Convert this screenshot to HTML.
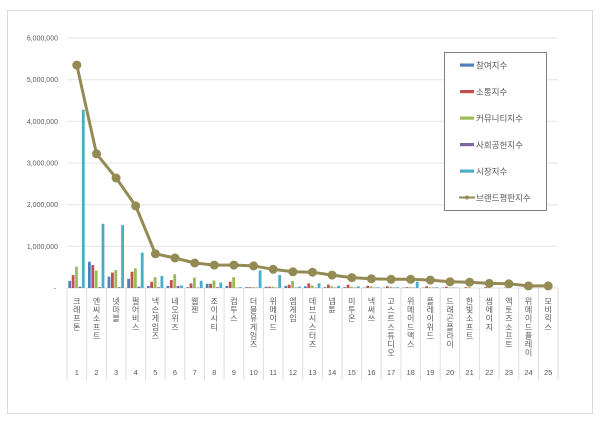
<!DOCTYPE html>
<html><head><meta charset="utf-8">
<style>
html,body{margin:0;padding:0;background:#fff;}
#wrap{position:relative;width:600px;height:422px;overflow:hidden;background:#fff;font-family:"Liberation Sans","Noto Sans CJK KR",sans-serif;}
svg{position:absolute;left:0;top:0;}
.cl{position:absolute;top:297px;width:9px;margin-left:-4.5px;writing-mode:vertical-rl;text-orientation:upright;font-family:"Noto Sans CJK KR","Liberation Sans",sans-serif;font-size:8px;line-height:9px;letter-spacing:0.6px;color:#595959;white-space:nowrap;}
.nm{position:absolute;top:368px;width:20px;margin-left:-10px;text-align:center;font-size:7.5px;color:#595959;}
</style></head><body><div id="wrap">
<svg width="600" height="422" viewBox="0 0 600 422" xmlns="http://www.w3.org/2000/svg">
<rect x="7.5" y="10.5" width="585" height="403" fill="#fff" stroke="#d9d9d9" stroke-width="1"/>
<g stroke="#e3e3e3" stroke-width="1">
<line x1="67" y1="38" x2="558" y2="38"/>
<line x1="67" y1="79.7" x2="558" y2="79.7"/>
<line x1="67" y1="121.3" x2="558" y2="121.3"/>
<line x1="67" y1="163" x2="558" y2="163"/>
<line x1="67" y1="204.7" x2="558" y2="204.7"/>
<line x1="67" y1="246.3" x2="558" y2="246.3"/>
<line x1="67" y1="288" x2="558" y2="288"/>
</g>
<g stroke="#dedede" stroke-width="1">
<line x1="67" y1="288" x2="67" y2="380"/><line x1="86.6" y1="288" x2="86.6" y2="380"/><line x1="106.3" y1="288" x2="106.3" y2="380"/><line x1="125.9" y1="288" x2="125.9" y2="380"/><line x1="145.6" y1="288" x2="145.6" y2="380"/><line x1="165.2" y1="288" x2="165.2" y2="380"/><line x1="184.8" y1="288" x2="184.8" y2="380"/><line x1="204.5" y1="288" x2="204.5" y2="380"/><line x1="224.1" y1="288" x2="224.1" y2="380"/><line x1="243.8" y1="288" x2="243.8" y2="380"/><line x1="263.4" y1="288" x2="263.4" y2="380"/><line x1="283" y1="288" x2="283" y2="380"/><line x1="302.7" y1="288" x2="302.7" y2="380"/><line x1="322.3" y1="288" x2="322.3" y2="380"/><line x1="342" y1="288" x2="342" y2="380"/><line x1="361.6" y1="288" x2="361.6" y2="380"/><line x1="381.2" y1="288" x2="381.2" y2="380"/><line x1="400.9" y1="288" x2="400.9" y2="380"/><line x1="420.5" y1="288" x2="420.5" y2="380"/><line x1="440.2" y1="288" x2="440.2" y2="380"/><line x1="459.8" y1="288" x2="459.8" y2="380"/><line x1="479.4" y1="288" x2="479.4" y2="380"/><line x1="499.1" y1="288" x2="499.1" y2="380"/><line x1="518.7" y1="288" x2="518.7" y2="380"/><line x1="538.4" y1="288" x2="538.4" y2="380"/><line x1="558" y1="288" x2="558" y2="380"/>
</g>
<g font-family="Liberation Sans, sans-serif" font-size="7" fill="#595959" text-anchor="end">
<text x="58" y="40.5">6,000,000</text>
<text x="58" y="82.2">5,000,000</text>
<text x="58" y="123.8">4,000,000</text>
<text x="58" y="165.5">3,000,000</text>
<text x="58" y="207.2">2,000,000</text>
<text x="58" y="248.8">1,000,000</text>
<text x="56" y="290.5">-</text>
</g>
<!-- bars: relative offsets blue -8.5, red -5.1, green -1.7, purple 1.7, cyan 5.1 ; width 2.8 -->
<g id="bars">
<g transform="translate(76.8,0)"><rect x="-8.5" y="280.9" width="2.8" height="7.1" fill="#4F81BD"/><rect x="-5.1" y="275.1" width="2.8" height="12.9" fill="#C0504D"/><rect x="-1.7" y="266.7" width="2.8" height="21.3" fill="#9BBB59"/><rect x="1.7" y="286.7" width="2.8" height="1.3" fill="#8064A2"/><rect x="5.1" y="109.7" width="2.8" height="178.3" fill="#4BACC6"/></g>
<g transform="translate(96.5,0)"><rect x="-8.5" y="261.7" width="2.8" height="26.3" fill="#4F81BD"/><rect x="-5.1" y="265.1" width="2.8" height="22.9" fill="#C0504D"/><rect x="-1.7" y="270.5" width="2.8" height="17.5" fill="#9BBB59"/><rect x="1.7" y="287.2" width="2.8" height="0.8" fill="#8064A2"/><rect x="5.1" y="223.8" width="2.8" height="64.2" fill="#4BACC6"/></g>
<g transform="translate(116.1,0)"><rect x="-8.5" y="276.7" width="2.8" height="11.3" fill="#4F81BD"/><rect x="-5.1" y="272.6" width="2.8" height="15.4" fill="#C0504D"/><rect x="-1.7" y="270.1" width="2.8" height="17.9" fill="#9BBB59"/><rect x="1.7" y="287.2" width="2.8" height="0.8" fill="#8064A2"/><rect x="5.1" y="225.1" width="2.8" height="62.9" fill="#4BACC6"/></g>
<g transform="translate(135.7,0)"><rect x="-8.5" y="278.8" width="2.8" height="9.2" fill="#4F81BD"/><rect x="-5.1" y="271.7" width="2.8" height="16.3" fill="#C0504D"/><rect x="-1.7" y="268.4" width="2.8" height="19.6" fill="#9BBB59"/><rect x="1.7" y="286.7" width="2.8" height="1.3" fill="#8064A2"/><rect x="5.1" y="252.6" width="2.8" height="35.4" fill="#4BACC6"/></g>
<g transform="translate(155.4,0)"><rect x="-8.5" y="285.9" width="2.8" height="2.1" fill="#4F81BD"/><rect x="-5.1" y="281.7" width="2.8" height="6.3" fill="#C0504D"/><rect x="-1.7" y="277.2" width="2.8" height="10.8" fill="#9BBB59"/><rect x="1.7" y="287.2" width="2.8" height="0.8" fill="#8064A2"/><rect x="5.1" y="275.9" width="2.8" height="12.1" fill="#4BACC6"/></g>
<g transform="translate(175,0)"><rect x="-8.5" y="285.9" width="2.8" height="2.1" fill="#4F81BD"/><rect x="-5.1" y="280.1" width="2.8" height="7.9" fill="#C0504D"/><rect x="-1.7" y="274.2" width="2.8" height="13.8" fill="#9BBB59"/><rect x="1.7" y="285.9" width="2.8" height="2.1" fill="#8064A2"/><rect x="5.1" y="285.5" width="2.8" height="2.5" fill="#4BACC6"/></g>
<g transform="translate(194.7,0)"><rect x="-8.5" y="287.2" width="2.8" height="0.8" fill="#4F81BD"/><rect x="-5.1" y="283.4" width="2.8" height="4.6" fill="#C0504D"/><rect x="-1.7" y="277.6" width="2.8" height="10.4" fill="#9BBB59"/><rect x="1.7" y="287.6" width="2.8" height="0.4" fill="#8064A2"/><rect x="5.1" y="280.9" width="2.8" height="7.1" fill="#4BACC6"/></g>
<g transform="translate(214.3,0)"><rect x="-8.5" y="283.8" width="2.8" height="4.2" fill="#4F81BD"/><rect x="-5.1" y="283.8" width="2.8" height="4.2" fill="#C0504D"/><rect x="-1.7" y="280.5" width="2.8" height="7.5" fill="#9BBB59"/><rect x="1.7" y="287.2" width="2.8" height="0.8" fill="#8064A2"/><rect x="5.1" y="282.6" width="2.8" height="5.4" fill="#4BACC6"/></g>
<g transform="translate(233.9,0)"><rect x="-8.5" y="285.9" width="2.8" height="2.1" fill="#4F81BD"/><rect x="-5.1" y="281.7" width="2.8" height="6.3" fill="#C0504D"/><rect x="-1.7" y="277.2" width="2.8" height="10.8" fill="#9BBB59"/><rect x="1.7" y="287.6" width="2.8" height="0.4" fill="#8064A2"/><rect x="5.1" y="287.2" width="2.8" height="0.8" fill="#4BACC6"/></g>
<g transform="translate(253.6,0)"><rect x="-8.5" y="287.2" width="2.8" height="0.8" fill="#4F81BD"/><rect x="-5.1" y="287.2" width="2.8" height="0.8" fill="#C0504D"/><rect x="-1.7" y="287.2" width="2.8" height="0.8" fill="#9BBB59"/><rect x="1.7" y="287.6" width="2.8" height="0.4" fill="#8064A2"/><rect x="5.1" y="270.5" width="2.8" height="17.5" fill="#4BACC6"/></g>
<g transform="translate(273.2,0)"><rect x="-8.5" y="286.7" width="2.8" height="1.3" fill="#4F81BD"/><rect x="-5.1" y="286.7" width="2.8" height="1.3" fill="#C0504D"/><rect x="-1.7" y="286.7" width="2.8" height="1.3" fill="#9BBB59"/><rect x="1.7" y="287.6" width="2.8" height="0.4" fill="#8064A2"/><rect x="5.1" y="275.1" width="2.8" height="12.9" fill="#4BACC6"/></g>
<g transform="translate(292.9,0)"><rect x="-8.5" y="285.9" width="2.8" height="2.1" fill="#4F81BD"/><rect x="-5.1" y="284.7" width="2.8" height="3.3" fill="#C0504D"/><rect x="-1.7" y="280.9" width="2.8" height="7.1" fill="#9BBB59"/><rect x="1.7" y="287.6" width="2.8" height="0.4" fill="#8064A2"/><rect x="5.1" y="286.7" width="2.8" height="1.3" fill="#4BACC6"/></g>
<g transform="translate(312.5,0)"><rect x="-8.5" y="286.3" width="2.8" height="1.7" fill="#4F81BD"/><rect x="-5.1" y="283.4" width="2.8" height="4.6" fill="#C0504D"/><rect x="-1.7" y="285.5" width="2.8" height="2.5" fill="#9BBB59"/><rect x="1.7" y="287.6" width="2.8" height="0.4" fill="#8064A2"/><rect x="5.1" y="283.4" width="2.8" height="4.6" fill="#4BACC6"/></g>
<g transform="translate(332.1,0)"><rect x="-8.5" y="287.2" width="2.8" height="0.8" fill="#4F81BD"/><rect x="-5.1" y="284.7" width="2.8" height="3.3" fill="#C0504D"/><rect x="-1.7" y="286.3" width="2.8" height="1.7" fill="#9BBB59"/><rect x="1.7" y="287.6" width="2.8" height="0.4" fill="#8064A2"/><rect x="5.1" y="285.9" width="2.8" height="2.1" fill="#4BACC6"/></g>
<g transform="translate(351.8,0)"><rect x="-8.5" y="287.2" width="2.8" height="0.8" fill="#4F81BD"/><rect x="-5.1" y="284.7" width="2.8" height="3.3" fill="#C0504D"/><rect x="-1.7" y="286.7" width="2.8" height="1.3" fill="#9BBB59"/><rect x="1.7" y="287.6" width="2.8" height="0.4" fill="#8064A2"/><rect x="5.1" y="286.3" width="2.8" height="1.7" fill="#4BACC6"/></g>
<g transform="translate(371.4,0)"><rect x="-8.5" y="287.6" width="2.8" height="0.4" fill="#4F81BD"/><rect x="-5.1" y="285.9" width="2.8" height="2.1" fill="#C0504D"/><rect x="-1.7" y="286.3" width="2.8" height="1.7" fill="#9BBB59"/><rect x="1.7" y="287.6" width="2.8" height="0.4" fill="#8064A2"/><rect x="5.1" y="287.2" width="2.8" height="0.8" fill="#4BACC6"/></g>
<g transform="translate(391.1,0)"><rect x="-8.5" y="287.6" width="2.8" height="0.4" fill="#4F81BD"/><rect x="-5.1" y="286.3" width="2.8" height="1.7" fill="#C0504D"/><rect x="-1.7" y="286.7" width="2.8" height="1.3" fill="#9BBB59"/><rect x="1.7" y="287.6" width="2.8" height="0.4" fill="#8064A2"/><rect x="5.1" y="287.2" width="2.8" height="0.8" fill="#4BACC6"/></g>
<g transform="translate(410.7,0)"><rect x="-8.5" y="287.6" width="2.8" height="0.4" fill="#4F81BD"/><rect x="-5.1" y="287.2" width="2.8" height="0.8" fill="#C0504D"/><rect x="-1.7" y="287.2" width="2.8" height="0.8" fill="#9BBB59"/><rect x="1.7" y="287.6" width="2.8" height="0.4" fill="#8064A2"/><rect x="5.1" y="281.7" width="2.8" height="6.3" fill="#4BACC6"/></g>
<g transform="translate(430.3,0)"><rect x="-8.5" y="287.6" width="2.8" height="0.4" fill="#4F81BD"/><rect x="-5.1" y="286.3" width="2.8" height="1.7" fill="#C0504D"/><rect x="-1.7" y="287.2" width="2.8" height="0.8" fill="#9BBB59"/><rect x="1.7" y="287.6" width="2.8" height="0.4" fill="#8064A2"/><rect x="5.1" y="287.2" width="2.8" height="0.8" fill="#4BACC6"/></g>
<g transform="translate(450,0)"><rect x="-8.5" y="287.6" width="2.8" height="0.4" fill="#4F81BD"/><rect x="-5.1" y="286.7" width="2.8" height="1.3" fill="#C0504D"/><rect x="-1.7" y="287.6" width="2.8" height="0.4" fill="#9BBB59"/><rect x="1.7" y="287.6" width="2.8" height="0.4" fill="#8064A2"/><rect x="5.1" y="287.6" width="2.8" height="0.4" fill="#4BACC6"/></g>
<g transform="translate(469.6,0)"><rect x="-5.1" y="287.2" width="2.8" height="0.8" fill="#C0504D"/><rect x="-1.7" y="287.2" width="2.8" height="0.8" fill="#9BBB59"/></g>
<g transform="translate(489.3,0)"><rect x="-5.1" y="287.2" width="2.8" height="0.8" fill="#C0504D"/><rect x="-1.7" y="287.6" width="2.8" height="0.4" fill="#9BBB59"/></g>
<g transform="translate(508.9,0)"><rect x="-5.1" y="287.6" width="2.8" height="0.4" fill="#C0504D"/></g>
<g transform="translate(528.5,0)"><rect x="-5.1" y="287.6" width="2.8" height="0.4" fill="#C0504D"/></g>
</g>
<polyline fill="none" stroke="#948A54" stroke-width="3" stroke-linejoin="round" points="76.8,65.1 96.5,153.8 116.1,178 135.7,205.9 155.4,253.8 175,258 194.7,263 214.3,265.1 233.9,265.1 253.6,265.9 273.2,269.3 292.9,271.8 312.5,272.2 332.1,275.1 351.8,277.6 371.4,278.8 391.1,279.3 410.7,279.3 430.3,280.1 450,281.8 469.6,282.2 489.3,283.4 508.9,283.8 528.5,285.9 548.2,285.9"/>
<g fill="#948A54">
<circle cx="76.8" cy="65.1" r="4.5"/><circle cx="96.5" cy="153.8" r="4.5"/><circle cx="116.1" cy="178" r="4.5"/><circle cx="135.7" cy="205.9" r="4.5"/><circle cx="155.4" cy="253.8" r="4.5"/><circle cx="175" cy="258" r="4.5"/><circle cx="194.7" cy="263" r="4.5"/><circle cx="214.3" cy="265.1" r="4.5"/><circle cx="233.9" cy="265.1" r="4.5"/><circle cx="253.6" cy="265.9" r="4.5"/><circle cx="273.2" cy="269.3" r="4.5"/><circle cx="292.9" cy="271.8" r="4.5"/><circle cx="312.5" cy="272.2" r="4.5"/><circle cx="332.1" cy="275.1" r="4.5"/><circle cx="351.8" cy="277.6" r="4.5"/><circle cx="371.4" cy="278.8" r="4.5"/><circle cx="391.1" cy="279.3" r="4.5"/><circle cx="410.7" cy="279.3" r="4.5"/><circle cx="430.3" cy="280.1" r="4.5"/><circle cx="450" cy="281.8" r="4.5"/><circle cx="469.6" cy="282.2" r="4.5"/><circle cx="489.3" cy="283.4" r="4.5"/><circle cx="508.9" cy="283.8" r="4.5"/><circle cx="528.5" cy="285.9" r="4.5"/><circle cx="548.2" cy="285.9" r="4.5"/>
</g>
<!-- legend -->
<rect x="444.5" y="52.5" width="102" height="158" fill="#fff" stroke="#7f7f7f" stroke-width="1"/>
<rect x="460" y="63.5" width="14" height="3.2" fill="#4F81BD"/>
<rect x="460" y="90" width="14" height="3.2" fill="#C0504D"/>
<rect x="460" y="116.5" width="14" height="3.2" fill="#9BBB59"/>
<rect x="460" y="143" width="14" height="3.2" fill="#8064A2"/>
<rect x="460" y="169.5" width="14" height="3.2" fill="#4BACC6"/>
<line x1="459" y1="197.5" x2="475" y2="197.5" stroke="#948A54" stroke-width="2"/>
<circle cx="467" cy="197.5" r="2" fill="#948A54"/>
<g font-family="Noto Sans CJK KR, Liberation Sans, sans-serif" font-size="8.5" fill="#595959">
<text x="476" y="68.3">참여지수</text>
<text x="476" y="94.8">소통지수</text>
<text x="476" y="121.3">커뮤니티지수</text>
<text x="476" y="147.8">사회공헌지수</text>
<text x="476" y="174.3">시장지수</text>
<text x="476" y="200.8">브랜드평판지수</text>
</g>
</svg>
<div class="cl" style="left:76.8px">크래프톤</div>
<div class="cl" style="left:96.5px">엔씨소프트</div>
<div class="cl" style="left:116.1px">넷마블</div>
<div class="cl" style="left:135.7px">펄어비스</div>
<div class="cl" style="left:155.4px">넥슨게임즈</div>
<div class="cl" style="left:175px">네오위즈</div>
<div class="cl" style="left:194.7px">웹젠</div>
<div class="cl" style="left:214.3px">조이시티</div>
<div class="cl" style="left:233.9px">컴투스</div>
<div class="cl" style="left:253.6px">더블유게임즈</div>
<div class="cl" style="left:273.2px">위메이드</div>
<div class="cl" style="left:292.9px">엠게임</div>
<div class="cl" style="left:312.5px">데브시스터즈</div>
<div class="cl" style="left:332.1px">넵튠</div>
<div class="cl" style="left:351.8px">미투온</div>
<div class="cl" style="left:371.4px">넥써쓰</div>
<div class="cl" style="left:391.1px">고스트스튜디오</div>
<div class="cl" style="left:410.7px">위메이드맥스</div>
<div class="cl" style="left:430.3px">플레이위드</div>
<div class="cl" style="left:450px">드래곤플라이</div>
<div class="cl" style="left:469.6px">한빛소프트</div>
<div class="cl" style="left:489.3px">썸에이지</div>
<div class="cl" style="left:508.9px">액토즈소프트</div>
<div class="cl" style="left:528.5px">위메이드플레이</div>
<div class="cl" style="left:548.2px">모비릭스</div>
<div class="nm" style="left:76.8px">1</div><div class="nm" style="left:96.5px">2</div><div class="nm" style="left:116.1px">3</div><div class="nm" style="left:135.7px">4</div><div class="nm" style="left:155.4px">5</div><div class="nm" style="left:175px">6</div><div class="nm" style="left:194.7px">7</div><div class="nm" style="left:214.3px">8</div><div class="nm" style="left:233.9px">9</div><div class="nm" style="left:253.6px">10</div><div class="nm" style="left:273.2px">11</div><div class="nm" style="left:292.9px">12</div><div class="nm" style="left:312.5px">13</div><div class="nm" style="left:332.1px">14</div><div class="nm" style="left:351.8px">15</div><div class="nm" style="left:371.4px">16</div><div class="nm" style="left:391.1px">17</div><div class="nm" style="left:410.7px">18</div><div class="nm" style="left:430.3px">19</div><div class="nm" style="left:450px">20</div><div class="nm" style="left:469.6px">21</div><div class="nm" style="left:489.3px">22</div><div class="nm" style="left:508.9px">23</div><div class="nm" style="left:528.5px">24</div><div class="nm" style="left:548.2px">25</div>
</div></body></html>
